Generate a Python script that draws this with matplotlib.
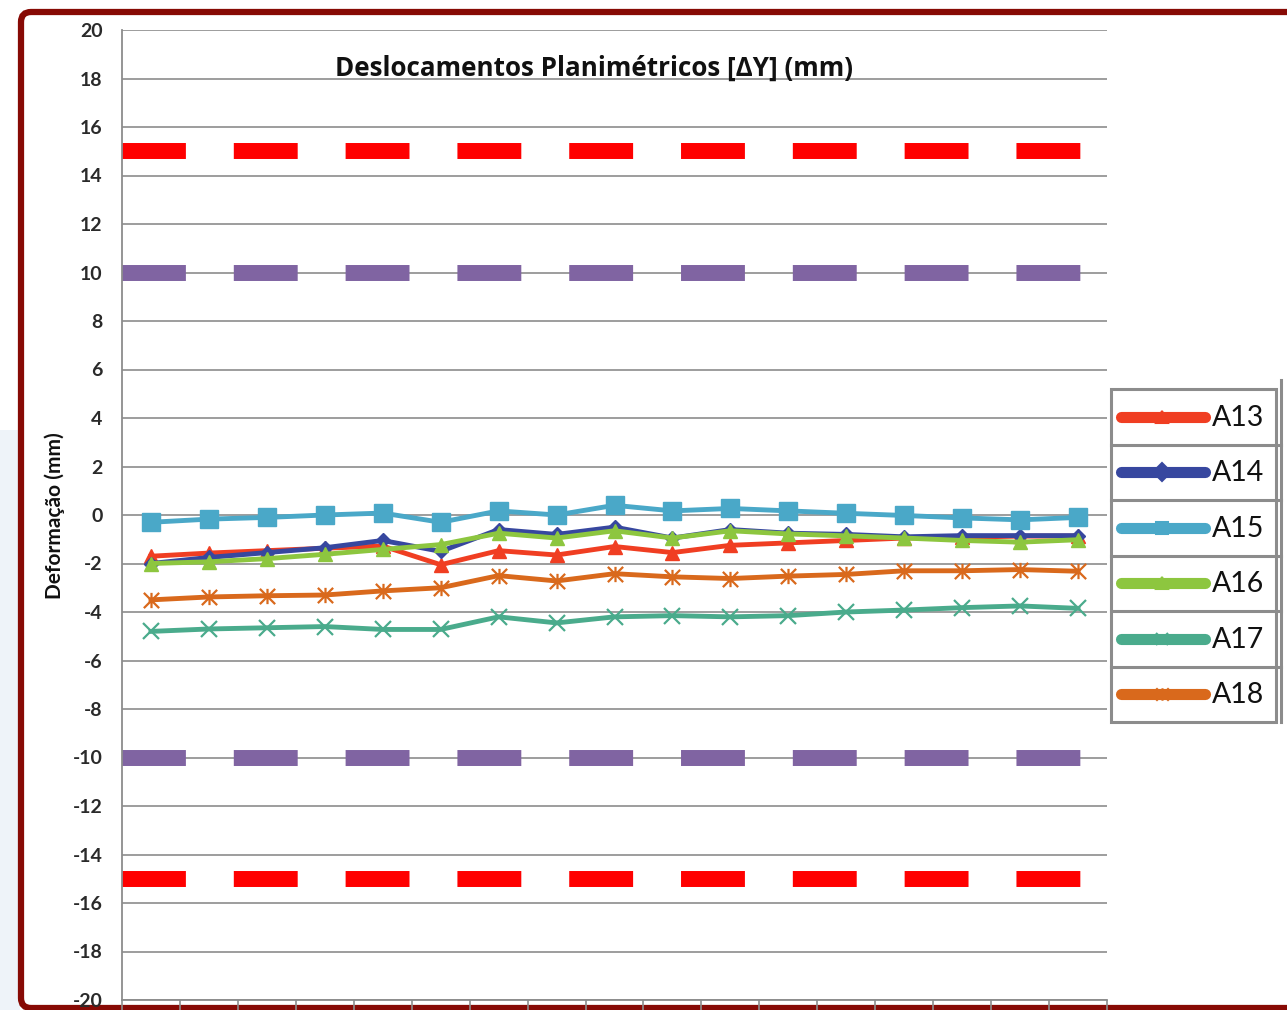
import numpy as np
import matplotlib
matplotlib.use("Agg")
import matplotlib.pyplot as plt
from matplotlib.path import Path
from matplotlib.patches import FancyBboxPatch, Rectangle

plt.rcParams['font.family'] = ['Lato', 'DejaVu Sans']
plt.rcParams['axes.unicode_minus'] = False

# --- data ---
series_names = ['A13', 'A14', 'A15', 'A16', 'A17', 'A18']
a13 = [-1.7, -1.57, -1.47, -1.37, -1.28, -2.05, -1.47, -1.65, -1.3, -1.55, -1.25, -1.15, -1.05, -0.95, -0.92, -0.87, -0.87]
a14 = [-2.0, -1.75, -1.55, -1.35, -1.05, -1.5, -0.6, -0.8, -0.5, -0.95, -0.6, -0.75, -0.8, -0.9, -0.85, -0.85, -0.85]
a15 = [-0.3, -0.17, -0.1, 0.0, 0.08, -0.3, 0.17, 0.0, 0.4, 0.17, 0.27, 0.17, 0.07, -0.02, -0.12, -0.2, -0.1]
a16 = [-2.0, -1.93, -1.8, -1.62, -1.42, -1.22, -0.75, -0.95, -0.65, -0.95, -0.65, -0.78, -0.86, -0.95, -1.05, -1.12, -1.02]
a17 = [-4.8, -4.7, -4.65, -4.6, -4.72, -4.72, -4.2, -4.45, -4.2, -4.15, -4.2, -4.15, -4.0, -3.92, -3.82, -3.75, -3.85]
a18 = [-3.5, -3.38, -3.33, -3.3, -3.13, -3.0, -2.5, -2.72, -2.42, -2.55, -2.62, -2.52, -2.45, -2.3, -2.3, -2.25, -2.32]
series_values = [a13, a14, a15, a16, a17, a18]
limit_alert = [10, -10]
limit_alarm = [15, -15]

colors = ['#F03E22', '#37479F', '#4AA8C8', '#8DC63F', '#4AAB8C', '#D9691C']

# excel-like "star" marker: x with a vertical bar
star = Path([(-1, -1), (1, 1), (-1, 1), (1, -1), (0, -1), (0, 1)],
            [Path.MOVETO, Path.LINETO, Path.MOVETO, Path.LINETO, Path.MOVETO, Path.LINETO])
markers = ['^', 'D', 's', '^', 'x', star]
msizes = [10, 7, 12.5, 10, 11, 11]

W, H = 1287, 1010
fig = plt.figure(figsize=(W / 100, H / 100), dpi=100)

# background / frame layer in pixel coords
bg = fig.add_axes([0, 0, 1, 1])
bg.set_xlim(0, W)
bg.set_ylim(H, 0)
bg.axis('off')
bg.add_patch(Rectangle((0, 430), 20, 580, color='#EEF3F9', lw=0))
yy = np.linspace(728, 1010, 60)
xc = 1003 + np.sqrt(np.clip(268 ** 2 - (yy - 800) ** 2, 0, None))
bg.fill_betweenx(yy, xc, W, color='#EDF4FA', lw=0)
bg.add_patch(FancyBboxPatch((21, 12), 1400, 996, boxstyle='round,pad=0,rounding_size=10',
                            facecolor='white', edgecolor='#870A05', lw=4.5))

# main chart
ax = fig.add_axes([122 / W, 10 / H, (1107 - 122) / W, (1000 - 30) / H])
ax.set_facecolor('none')
x = np.arange(len(a13))

for v in limit_alarm:
    ax.axhline(v, color='#FF0000', lw=11.5, dashes=(4, 3), zorder=2)
for v in limit_alert:
    ax.axhline(v, color='#8064A2', lw=11.5, dashes=(4, 3), zorder=2)

for name, vals, c, m, ms in zip(series_names, series_values, colors, markers, msizes):
    ax.plot(x, vals, color=c, lw=3.5, marker=m, ms=ms, mfc=c, mec=c,
            mew=1.6 if m in ('x',) or m is star else 1, zorder=3, label=name)

ax.set_xlim(-0.5, len(a13) - 0.5)
ax.set_ylim(-20, 20)
ax.set_yticks(np.arange(-20, 21, 2))
ax.set_xticks(np.arange(-0.5, len(a13), 1))
ax.set_xticklabels([])
ax.grid(axis='y', color='#8C8C8C', lw=1.2)
ax.set_axisbelow(True)
for s in ['top', 'right']:
    ax.spines[s].set_visible(False)
for s in ['left', 'bottom']:
    ax.spines[s].set_color('#8C8C8C')
    ax.spines[s].set_linewidth(1.3)
ax.tick_params(axis='y', length=0, pad=14, labelsize=14, labelcolor='#2A2A2A')
ax.tick_params(axis='x', length=8, color='#8C8C8C', width=1.2, direction='out')
for lab in ax.get_yticklabels():
    lab.set_fontweight('bold')

ax.text((594 - 122) / 985, (1000 - 68) / 970, 'Deslocamentos Planimétricos [ΔY] (mm)',
        transform=ax.transAxes, ha='center', va='center', fontsize=18.7, fontweight='bold',
        color='#111111', family=['Open Sans', 'DejaVu Sans'])
fig.text(55 / W, 1 - 516 / H, 'Deformação (mm)', rotation=90, ha='center', va='center',
         fontsize=15, fontweight='bold', color='#111111')

# legend drawn as a boxed table on the right
leg = fig.add_axes([0, 0, 1, 1], facecolor='none')
leg.set_xlim(0, W)
leg.set_ylim(H, 0)
leg.axis('off')
top, row_h = 389, 55.5
n = len(series_names)
leg.add_patch(Rectangle((1111, top), 165, row_h * n, fill=False, edgecolor='#8C8C8C', lw=2.2))
leg.plot([1281, 1281], [380, top + row_h * n], color='#8C8C8C', lw=2.2)
for i, (name, c, m) in enumerate(zip(series_names, colors, markers)):
    yc = top + row_h * (i + 0.5)
    if i > 0:
        leg.plot([1111, 1281], [top + row_h * i] * 2, color='#8C8C8C', lw=2.2)
    leg.plot([1121, 1205], [yc, yc], color=c, lw=8, solid_capstyle='round')
    leg.plot([1162], [yc], color=c, marker=m, ms=9, mew=1.5)
    leg.text(1212, yc + 1, name, fontsize=20.5, ha='left', va='center', color='#111111')

fig.savefig('out.png', dpi=100)
